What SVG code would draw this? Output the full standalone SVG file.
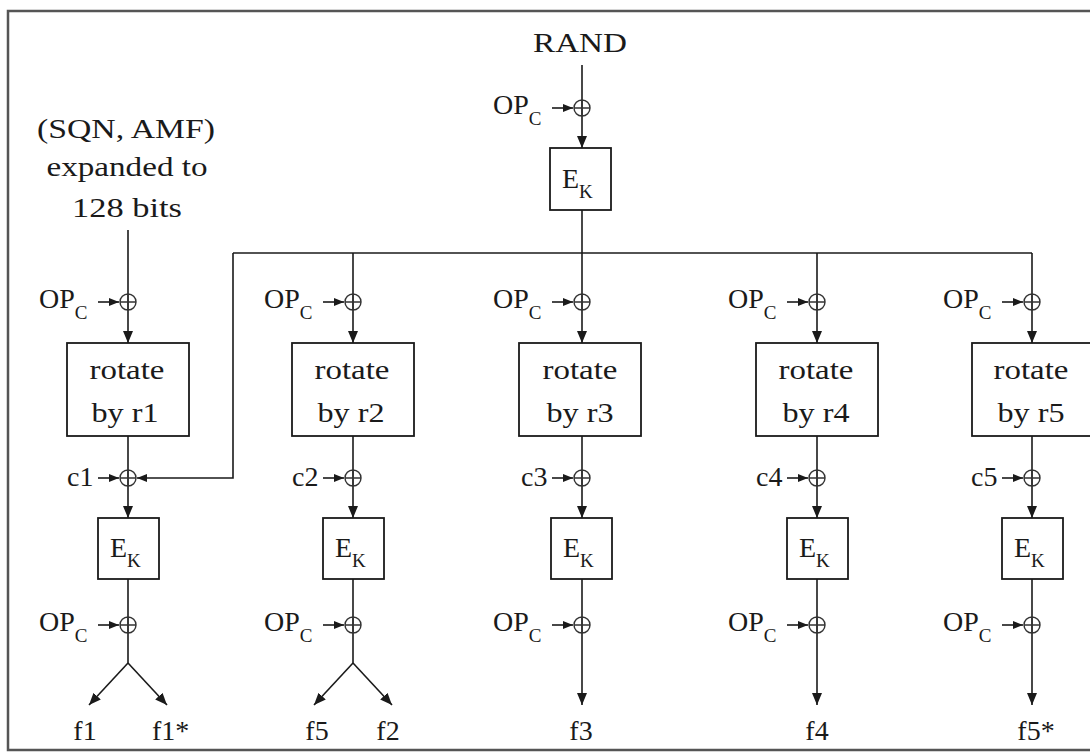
<svg xmlns="http://www.w3.org/2000/svg" width="1090" height="754" viewBox="0 0 1090 754">
<defs>
<marker id="ah" markerUnits="userSpaceOnUse" markerWidth="12" markerHeight="10" refX="12" refY="5" orient="auto"><path d="M0,0 L12,5 L0,10 z" fill="#1a1a1a"/></marker>
<marker id="ahs" markerUnits="userSpaceOnUse" markerWidth="10" markerHeight="8" refX="10" refY="4" orient="auto"><path d="M0,0 L10,4 L0,8 z" fill="#1a1a1a"/></marker>
</defs>
<style>
.lbl{font-size:28px;fill:#1a1a1a}
.mid{text-anchor:middle}
.sub{font-size:19px}
.box{fill:#fff;stroke:#1a1a1a;stroke-width:1.8}
.ln{fill:none;stroke:#1a1a1a;stroke-width:1.6}
.arr{marker-end:url(#ah)}
.arrs{marker-end:url(#ahs)}
.xor{fill:none;stroke:#333;stroke-width:1.4}
.frame{fill:none;stroke:#555;stroke-width:2.5}
</style>
<rect width="1090" height="754" fill="#fff"/>
<path class="frame" d="M1092,11 H8 V750 H1092"/>

<g id="connectors">
  <path class="ln" d="M582,65 V108"/>
  <path class="ln arr" d="M582,108 V148"/>
  <path class="ln arrs" d="M552,108 H573"/>
  <path class="ln" d="M582,210 V302"/>
  <path class="ln" d="M233,253 H1032"/>
  <path class="ln" d="M353,253 V302"/>
  <path class="ln" d="M817,253 V302"/>
  <path class="ln" d="M1032,253 V302"/>
  <path class="ln arrs" d="M233,253 V478 H137"/>
  <path class="ln" d="M128,230 V302"/>

  <path class="ln arrs" d="M98,302 H119"/>
  <path class="ln arr" d="M128,302 V343"/>
  <path class="ln" d="M128,436 V478"/>
  <path class="ln arrs" d="M98,478 H119"/>
  <path class="ln arr" d="M128,478 V518"/>
  <path class="ln" d="M128,579 V663"/>
  <path class="ln arrs" d="M98,625 H119"/>
  <path class="ln arr" d="M128,663 L89,705"/>
  <path class="ln arr" d="M128,663 L167,705"/>

  <path class="ln arrs" d="M323,302 H344"/>
  <path class="ln arr" d="M353,302 V343"/>
  <path class="ln" d="M353,436 V478"/>
  <path class="ln arrs" d="M323,478 H344"/>
  <path class="ln arr" d="M353,478 V518"/>
  <path class="ln" d="M353,579 V663"/>
  <path class="ln arrs" d="M323,625 H344"/>
  <path class="ln arr" d="M353,663 L314,705"/>
  <path class="ln arr" d="M353,663 L392,705"/>

  <path class="ln arrs" d="M552,302 H573"/>
  <path class="ln arr" d="M582,302 V343"/>
  <path class="ln" d="M582,436 V478"/>
  <path class="ln arrs" d="M552,478 H573"/>
  <path class="ln arr" d="M582,478 V518"/>
  <path class="ln arr" d="M582,579 V705"/>
  <path class="ln arrs" d="M552,625 H573"/>

  <path class="ln arrs" d="M787,302 H808"/>
  <path class="ln arr" d="M817,302 V343"/>
  <path class="ln" d="M817,436 V478"/>
  <path class="ln arrs" d="M787,478 H808"/>
  <path class="ln arr" d="M817,478 V518"/>
  <path class="ln arr" d="M817,579 V705"/>
  <path class="ln arrs" d="M787,625 H808"/>

  <path class="ln arrs" d="M1002,302 H1023"/>
  <path class="ln arr" d="M1032,302 V343"/>
  <path class="ln" d="M1032,436 V478"/>
  <path class="ln arrs" d="M1002,478 H1023"/>
  <path class="ln arr" d="M1032,478 V518"/>
  <path class="ln arr" d="M1032,579 V705"/>
  <path class="ln arrs" d="M1002,625 H1023"/>
</g>

<g id="rand"><text class="lbl mid" font-family="Liberation Serif" x="580" y="52" textLength="94" lengthAdjust="spacingAndGlyphs">RAND</text></g>
<g id="sqn-amf">
  <text class="lbl mid" font-family="Liberation Serif" x="126" y="138" textLength="178" lengthAdjust="spacingAndGlyphs">(SQN, AMF)</text>
  <text class="lbl mid" font-family="Liberation Serif" x="127" y="176" textLength="161" lengthAdjust="spacingAndGlyphs">expanded to</text>
  <text class="lbl mid" font-family="Liberation Serif" x="127" y="217" textLength="110" lengthAdjust="spacingAndGlyphs">128 bits</text>
</g>

<g id="xor-rand"><circle class="xor" cx="582" cy="108" r="8"/><path class="xor" d="M574,108 H590 M582,100 V116"/></g>
<g id="opc-rand"><text class="lbl" font-family="Liberation Serif" x="493" y="114">OP<tspan class="sub" dy="11">C</tspan></text></g>
<g id="ek-top"><rect class="box" x="550" y="148" width="61" height="62"/><text class="lbl" font-family="Liberation Serif" x="562" y="188">E<tspan class="sub" dy="10">K</tspan></text></g>

<g id="opc1-in"><text class="lbl" font-family="Liberation Serif" x="39" y="308">OP<tspan class="sub" dy="11">C</tspan></text></g>
<g id="xor1-in"><circle class="xor" cx="128" cy="302" r="8"/><path class="xor" d="M120,302 H136 M128,294 V310"/></g>
<g id="rot1"><rect class="box" x="67" y="343" width="122" height="93"/><text class="lbl mid" font-family="Liberation Serif" x="127" y="379" textLength="75" lengthAdjust="spacingAndGlyphs">rotate</text><text class="lbl mid" font-family="Liberation Serif" x="125" y="422" textLength="67" lengthAdjust="spacingAndGlyphs">by r1</text></g>
<g id="c1"><text class="lbl" font-family="Liberation Serif" x="67" y="486">c1</text></g>
<g id="xor1-c"><circle class="xor" cx="128" cy="478" r="8"/><path class="xor" d="M120,478 H136 M128,470 V486"/></g>
<g id="ek1"><rect class="box" x="98" y="518" width="61" height="61"/><text class="lbl" font-family="Liberation Serif" x="110" y="557">E<tspan class="sub" dy="10">K</tspan></text></g>
<g id="opc1-out"><text class="lbl" font-family="Liberation Serif" x="39" y="631">OP<tspan class="sub" dy="11">C</tspan></text></g>
<g id="xor1-out"><circle class="xor" cx="128" cy="625" r="8"/><path class="xor" d="M120,625 H136 M128,617 V633"/></g>
<g id="f1"><text class="lbl mid" font-family="Liberation Serif" x="85" y="740">f1</text></g>
<g id="f1s"><text class="lbl" font-family="Liberation Serif" x="152" y="740">f1*</text></g>

<g id="opc2-in"><text class="lbl" font-family="Liberation Serif" x="264" y="308">OP<tspan class="sub" dy="11">C</tspan></text></g>
<g id="xor2-in"><circle class="xor" cx="353" cy="302" r="8"/><path class="xor" d="M345,302 H361 M353,294 V310"/></g>
<g id="rot2"><rect class="box" x="292" y="343" width="122" height="93"/><text class="lbl mid" font-family="Liberation Serif" x="352" y="379" textLength="75" lengthAdjust="spacingAndGlyphs">rotate</text><text class="lbl mid" font-family="Liberation Serif" x="351" y="422" textLength="67" lengthAdjust="spacingAndGlyphs">by r2</text></g>
<g id="c2"><text class="lbl" font-family="Liberation Serif" x="292" y="486">c2</text></g>
<g id="xor2-c"><circle class="xor" cx="353" cy="478" r="8"/><path class="xor" d="M345,478 H361 M353,470 V486"/></g>
<g id="ek2"><rect class="box" x="323" y="518" width="61" height="61"/><text class="lbl" font-family="Liberation Serif" x="335" y="557">E<tspan class="sub" dy="10">K</tspan></text></g>
<g id="opc2-out"><text class="lbl" font-family="Liberation Serif" x="264" y="631">OP<tspan class="sub" dy="11">C</tspan></text></g>
<g id="xor2-out"><circle class="xor" cx="353" cy="625" r="8"/><path class="xor" d="M345,625 H361 M353,617 V633"/></g>
<g id="f5"><text class="lbl mid" font-family="Liberation Serif" x="317" y="740">f5</text></g>
<g id="f2"><text class="lbl mid" font-family="Liberation Serif" x="388" y="740">f2</text></g>

<g id="opc3-in"><text class="lbl" font-family="Liberation Serif" x="493" y="308">OP<tspan class="sub" dy="11">C</tspan></text></g>
<g id="xor3-in"><circle class="xor" cx="582" cy="302" r="8"/><path class="xor" d="M574,302 H590 M582,294 V310"/></g>
<g id="rot3"><rect class="box" x="519" y="343" width="122" height="93"/><text class="lbl mid" font-family="Liberation Serif" x="580" y="379" textLength="75" lengthAdjust="spacingAndGlyphs">rotate</text><text class="lbl mid" font-family="Liberation Serif" x="580" y="422" textLength="67" lengthAdjust="spacingAndGlyphs">by r3</text></g>
<g id="c3"><text class="lbl" font-family="Liberation Serif" x="521" y="486">c3</text></g>
<g id="xor3-c"><circle class="xor" cx="582" cy="478" r="8"/><path class="xor" d="M574,478 H590 M582,470 V486"/></g>
<g id="ek3"><rect class="box" x="551" y="518" width="61" height="61"/><text class="lbl" font-family="Liberation Serif" x="563" y="557">E<tspan class="sub" dy="10">K</tspan></text></g>
<g id="opc3-out"><text class="lbl" font-family="Liberation Serif" x="493" y="631">OP<tspan class="sub" dy="11">C</tspan></text></g>
<g id="xor3-out"><circle class="xor" cx="582" cy="625" r="8"/><path class="xor" d="M574,625 H590 M582,617 V633"/></g>
<g id="f3"><text class="lbl mid" font-family="Liberation Serif" x="581" y="740">f3</text></g>

<g id="opc4-in"><text class="lbl" font-family="Liberation Serif" x="728" y="308">OP<tspan class="sub" dy="11">C</tspan></text></g>
<g id="xor4-in"><circle class="xor" cx="817" cy="302" r="8"/><path class="xor" d="M809,302 H825 M817,294 V310"/></g>
<g id="rot4"><rect class="box" x="756" y="343" width="122" height="93"/><text class="lbl mid" font-family="Liberation Serif" x="816" y="379" textLength="75" lengthAdjust="spacingAndGlyphs">rotate</text><text class="lbl mid" font-family="Liberation Serif" x="816" y="422" textLength="67" lengthAdjust="spacingAndGlyphs">by r4</text></g>
<g id="c4"><text class="lbl" font-family="Liberation Serif" x="756" y="486">c4</text></g>
<g id="xor4-c"><circle class="xor" cx="817" cy="478" r="8"/><path class="xor" d="M809,478 H825 M817,470 V486"/></g>
<g id="ek4"><rect class="box" x="787" y="518" width="61" height="61"/><text class="lbl" font-family="Liberation Serif" x="799" y="557">E<tspan class="sub" dy="10">K</tspan></text></g>
<g id="opc4-out"><text class="lbl" font-family="Liberation Serif" x="728" y="631">OP<tspan class="sub" dy="11">C</tspan></text></g>
<g id="xor4-out"><circle class="xor" cx="817" cy="625" r="8"/><path class="xor" d="M809,625 H825 M817,617 V633"/></g>
<g id="f4"><text class="lbl mid" font-family="Liberation Serif" x="817" y="740">f4</text></g>

<g id="opc5-in"><text class="lbl" font-family="Liberation Serif" x="943" y="308">OP<tspan class="sub" dy="11">C</tspan></text></g>
<g id="xor5-in"><circle class="xor" cx="1032" cy="302" r="8"/><path class="xor" d="M1024,302 H1040 M1032,294 V310"/></g>
<g id="rot5"><rect class="box" x="972" y="343" width="130" height="93"/><text class="lbl mid" font-family="Liberation Serif" x="1031" y="379" textLength="75" lengthAdjust="spacingAndGlyphs">rotate</text><text class="lbl mid" font-family="Liberation Serif" x="1031" y="422" textLength="67" lengthAdjust="spacingAndGlyphs">by r5</text></g>
<g id="c5"><text class="lbl" font-family="Liberation Serif" x="971" y="486">c5</text></g>
<g id="xor5-c"><circle class="xor" cx="1032" cy="478" r="8"/><path class="xor" d="M1024,478 H1040 M1032,470 V486"/></g>
<g id="ek5"><rect class="box" x="1002" y="518" width="61" height="61"/><text class="lbl" font-family="Liberation Serif" x="1014" y="557">E<tspan class="sub" dy="10">K</tspan></text></g>
<g id="opc5-out"><text class="lbl" font-family="Liberation Serif" x="943" y="631">OP<tspan class="sub" dy="11">C</tspan></text></g>
<g id="xor5-out"><circle class="xor" cx="1032" cy="625" r="8"/><path class="xor" d="M1024,625 H1040 M1032,617 V633"/></g>
<g id="f5s"><text class="lbl mid" font-family="Liberation Serif" x="1036" y="740">f5*</text></g>
</svg>
